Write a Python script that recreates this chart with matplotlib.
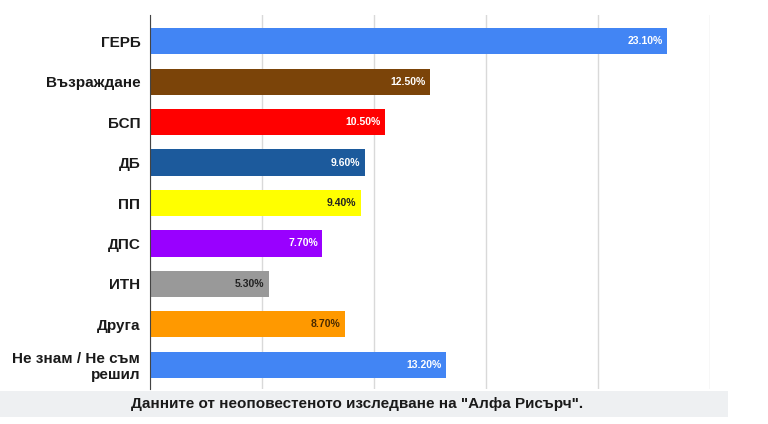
import matplotlib.pyplot as plt
from matplotlib.patches import Rectangle

plt.rcParams['font.family'] = ['Liberation Sans', 'DejaVu Sans']

parties = ['ГЕРБ', 'Възраждане', 'БСП', 'ДБ', 'ПП', 'ДПС', 'ИТН', 'Друга', 'Не знам / Не съм\nрешил']
values = [23.1, 12.5, 10.5, 9.6, 9.4, 7.7, 5.3, 8.7, 13.2]
colors = ['#4285f4', '#7b4409', '#ff0000', '#1c5a9c', '#ffff00', '#9900ff', '#999999', '#ff9900', '#4285f4']
label_colors = ['white', 'white', 'white', 'white', '#222222', 'white', '#222222', '#4a2a00', 'white']
caption = 'Данните от неоповестеното изследване на "Алфа Рисърч".'

fig = plt.figure(figsize=(7.68, 4.24), dpi=100)
ax = fig.add_axes([150/768, 1 - 389/424, 560/768, 374/424])

y = list(range(len(parties)))
ax.barh(y, values, height=0.65, color=colors, zorder=2)
for i, v in enumerate(values):
    ax.text(v - 0.2, i, f'{v:.2f}%', ha='right', va='center', fontsize=7.5,
            fontweight='bold', color=label_colors[i], zorder=3)

ax.set_xlim(0, 25)
ax.set_ylim(8.6, -0.65)
ax.set_xticks([0, 5, 10, 15, 20, 25])
ax.set_xticklabels([])
ax.tick_params(axis='x', length=0)
ax.tick_params(axis='y', length=0, pad=7)
ax.set_yticks(y)
ax.set_yticklabels(parties, fontsize=11, fontweight='bold', color='#1a1a1a', linespacing=1.15)
ax.grid(axis='x', color='#d9d9d9', linewidth=1, zorder=0)
for s in ['top', 'right', 'bottom']:
    ax.spines[s].set_visible(False)
ax.spines['left'].set_color('#444444')
ax.spines['left'].set_zorder(4)

fig.patches.append(Rectangle((0, 1 - 417/424), 728/768, 26/424, transform=fig.transFigure,
                             facecolor='#eef0f2', edgecolor='none', zorder=0))
fig.text(357/768, 1 - 404/424, caption, ha='center', va='center', fontsize=11,
         fontweight='bold', color='#1a1a1a')

fig.savefig('out.png', dpi=100)
